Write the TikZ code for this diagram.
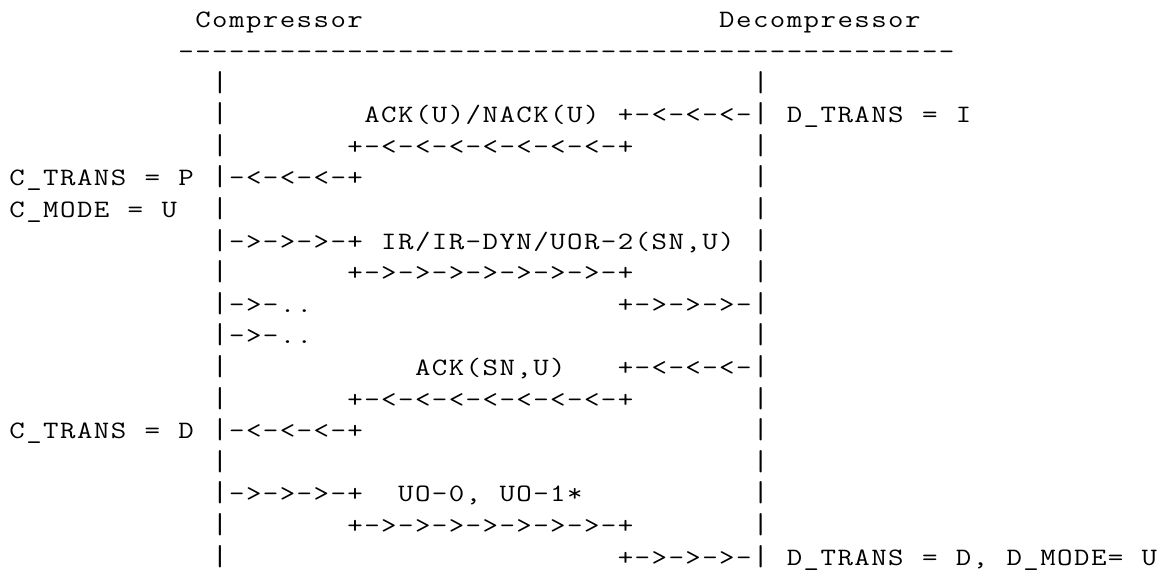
\documentclass[tikz,border=0pt]{standalone}
\usepackage{graphicx}
\makeatletter
\newlength\cw \setlength\cw{16.9pt}
\def\as@sp{~}
\newcommand\mono[1]{\@tfor\as@ch:=#1\do{\ifx\as@ch\as@sp\hbox to\cw{\hfil}\else\hbox to\cw{\hss\scalebox{1.2}[1]{\as@ch}\hss}\fi}}
\newcommand\pipechar{\hbox to\cw{\hss\scalebox{1.3}[1.15]{|}\hss}}
\makeatother
\tikzset{
  txt/.style={anchor=base west, inner sep=0pt, outer sep=0pt, font=\fontsize{25}{30}\selectfont\ttfamily, text=black},
}
\newcommand\run[4]{\node[txt] (#1) at ({8.7+16.9*#2},{-(27.8+31.6*#3)}) {\mono{#4}};}
\begin{document}
\begin{tikzpicture}[x=1pt,y=1pt]
\fill[white] (0,0) rectangle (1161,-574);
\useasboundingbox (0,0) rectangle (1161,-574);
% headings
\run{comp}{11}{0}{Compressor}
\run{decomp}{42}{0}{Decompressor}
\run{rule}{10}{1}{----------------------------------------------}
% vertical lines
\foreach \r in {2,...,17}{
  \node[txt] (lp\r) at ({8.7+16.9*12},{-(27.8+31.6*\r)}) {\pipechar};
  \node[txt] (rp\r) at ({8.7+16.9*44},{-(27.8+31.6*\r)}) {\pipechar};
}
% row 3
\run{ackU}{21}{3}{ACK(U)/NACK(U)}
\run{a3}{36}{3}{+-<-<-<-}
\run{dI}{46}{3}{D\_TRANS~=~I}
% row 4
\run{a4}{20}{4}{+-<-<-<-<-<-<-<-+}
% row 5
\run{cP}{0}{5}{C\_TRANS~=~P}
\run{a5}{13}{5}{-<-<-<-+}
% row 6
\run{cU}{0}{6}{C\_MODE~=~U}
% row 7
\run{a7}{13}{7}{->->->-+}
\run{ir}{22}{7}{IR/IR-DYN/UOR-2(SN,U)}
% row 8
\run{a8}{20}{8}{+->->->->->->->-+}
% row 9
\run{a9}{13}{9}{->-..}
\run{b9}{36}{9}{+->->->-}
% row 10
\run{a10}{13}{10}{->-..}
% row 11
\run{ackSN}{24}{11}{ACK(SN,U)}
\run{a11}{36}{11}{+-<-<-<-}
% row 12
\run{a12}{20}{12}{+-<-<-<-<-<-<-<-+}
% row 13
\run{cD}{0}{13}{C\_TRANS~=~D}
\run{a13}{13}{13}{-<-<-<-+}
% row 15
\run{a15}{13}{15}{->->->-+}
\run{uo}{23}{15}{UO-0,~UO-1*}
% row 16
\run{a16}{20}{16}{+->->->->->->->-+}
% row 17
\run{a17}{36}{17}{+->->->-}
\run{dD}{46}{17}{D\_TRANS~=~D,~D\_MODE=~U}
\end{tikzpicture}
\end{document}
